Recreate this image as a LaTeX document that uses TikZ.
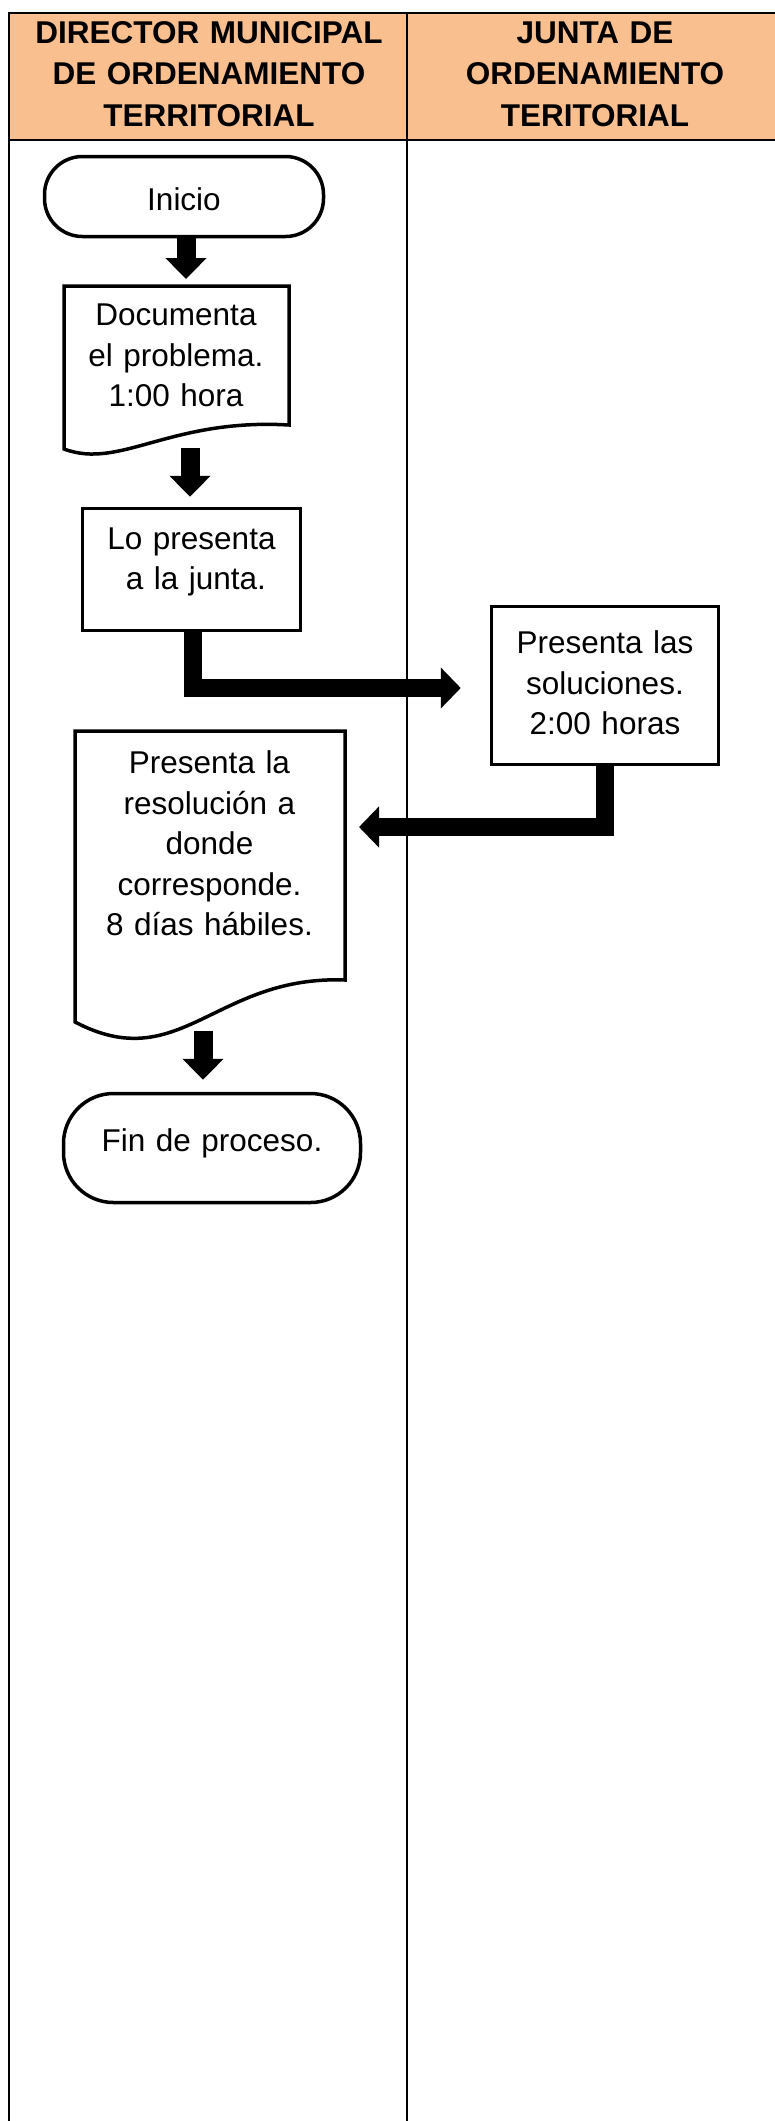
\documentclass[tikz,border=0pt]{standalone}
\usepackage{fontspec}
\setmainfont{Liberation Sans}
\usetikzlibrary{arrows.meta,calc}
\definecolor{hdr}{HTML}{FABF8F}
\begin{document}
\begin{tikzpicture}[x=1pt,y=-1pt,
  txt/.style={text width=320pt, align=center, inner sep=0pt, anchor=base, font=\fontsize{31.5}{40.5}\selectfont},
  hdrtxt/.style={text width=380pt, align=center, inner sep=0pt, anchor=base, font=\fontsize{31.5}{41.75}\selectfont\bfseries},
  term/.style={draw, line width=3.5pt, rounded corners=#1, inner sep=0pt},
  boxshape/.style={draw, line width=3.5pt, inner sep=0pt},
  ghost/.style={inner sep=0pt, outer sep=0pt},
  docshape/.style={draw, line width=3.5pt, line join=miter},
  barrow/.style={line width=19pt, -{Triangle[width=40pt,length=21pt]}},
  elbow/.style={line width=18pt, line join=miter, -{Triangle[width=40pt,length=20pt]}},
  gridline/.style={line width=2.5pt}]
\useasboundingbox (0,0) rectangle (774,2121);
% header
\fill[hdr] (9,13) rectangle (776,140);
\draw[gridline] (9,13) -- (776,13);
\draw[gridline] (9,140) -- (776,140);
\draw[gridline] (9,11.75) -- (9,2125);
\draw[gridline] (407,11.75) -- (407,2125);
\node[hdrtxt] (h1) at (209,43) {DIRECTOR MUNICIPAL\\DE ORDENAMIENTO\\TERRITORIAL};
\node[hdrtxt] (h2) at (595,43) {JUNTA DE\\ORDENAMIENTO\\TERITORIAL};
% shapes
\node[term=38pt, minimum width=279pt, minimum height=80pt] (inicio) at (184,196.5) {};
\node[ghost, minimum width=225pt, minimum height=139pt] (doc1) at (176.5,355.5) {};
\draw[docshape] (64,286) -- (289,286) -- (289,425) .. controls (170,418) and (120,470) .. (64,449) -- cycle;
\node[boxshape, minimum width=218pt, minimum height=122pt] (lo) at (191.5,569.5) {};
\node[boxshape, minimum width=227pt, minimum height=158pt] (sol) at (605,685.5) {};
\node[ghost, minimum width=271pt, minimum height=249pt] (doc2) at (210,855.5) {};
\draw[docshape] (75,731) -- (345,731) -- (345,980) .. controls (215,975) and (180,1077) .. (75,1022) -- cycle;
\node[term=50pt, minimum width=297pt, minimum height=109pt] (fin) at (212,1148) {};
% texts
\node[txt] (tinicio) at (184,210.5) {Inicio};
\node[txt] (tdoc1) at (176,325.5) {Documenta\\el problema.\\1:00 hora};
\node[txt] (tlo) at (191.5,549) {Lo presenta\\\hspace*{8.8pt}a la junta.};
\node[txt] (tsol) at (605,653.5) {Presenta las\\soluciones.\\2:00 horas};
\node[txt] (tdoc2) at (209.5,773.5) {Presenta la\\resolución a\\donde\\corresponde.\\8 días hábiles.\hspace*{21pt}};
\node[txt] (tfin) at (212,1151.7) {Fin de proceso.};
% connectors
\coordinate (b1) at (190,448);
\coordinate (e1) at (203,1031);
\draw[barrow, shorten >=7pt] ([xshift=2pt]inicio.south) -- ([xshift=2pt]inicio.south |- doc1.north);
\draw[barrow, shorten >=10pt] (b1) -- (b1 |- lo.north);
\draw[elbow, shorten >=29pt] ([xshift=1.5pt]lo.south) |- ([yshift=-2.5pt]sol.west);
\draw[elbow, shorten >=13.5pt] (sol.south) |- ([yshift=28.5pt]doc2.east);
\draw[barrow, shorten >=12pt] (e1) -- (e1 |- fin.north);
\end{tikzpicture}
\end{document}
